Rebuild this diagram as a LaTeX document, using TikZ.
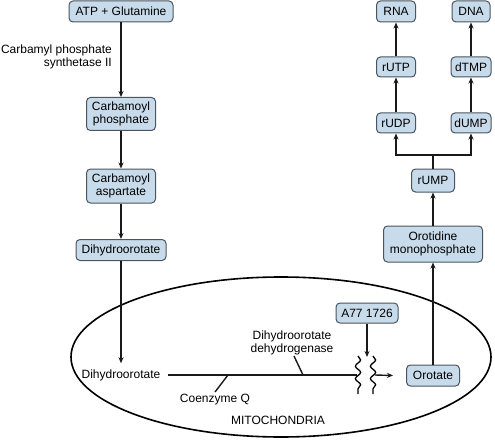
\documentclass[tikz,border=0pt]{standalone}
\usepackage{fontspec}
\setmainfont{Liberation Sans}
\usetikzlibrary{arrows.meta,decorations.pathmorphing}
\definecolor{boxblue}{HTML}{C8DBEA}
\definecolor{boxline}{HTML}{4A5560}
\begin{document}
\begin{tikzpicture}[x=1pt,y=-1pt,
  every node/.style={font=\fontsize{12}{13.5}\selectfont, inner sep=1pt},
  molbox/.style={draw=boxline, fill=boxblue, rounded corners=4pt, line width=1pt,
    align=center, minimum height=21pt, inner sep=2pt},
  lbl/.style={align=center},
  conn/.style={line width=1.4pt, draw=black!90},
  arr/.style={conn, -{Stealth[length=6pt,width=5pt]}},
  squig/.style={line width=1.3pt, decorate,
    decoration={snake, amplitude=2.6pt, segment length=12.5pt}}]
\useasboundingbox (0,0) rectangle (495,441);

% mitochondrion
\draw[line width=1.6pt] (281,357) ellipse [x radius=210, y radius=80];
\node[lbl] (mito) at (278,420) {MITOCHONDRIA};

% left column
\node[molbox, minimum width=104pt] (atp) at (121,11.5) {ATP + Glutamine};
\node[lbl, anchor=east, align=right] (cps) at (113,57) {Carbamyl phosphate\\synthetase II};
\node[molbox, minimum width=69pt, minimum height=33pt] (cp) at (121,114) {Carbamoyl\\phosphate};
\node[molbox, minimum width=69pt, minimum height=34pt] (ca) at (121,186) {Carbamoyl\\aspartate};
\node[molbox, minimum width=90pt] (dho) at (121,250) {Dihydroorotate};
\node[lbl] (dho2) at (121,375) {Dihydroorotate};

\draw[arr] (atp.south) -- (cp.north);
\draw[arr] (cp.south) -- (ca.north);
\draw[arr] (ca.south) -- (dho.north);
\draw[arr] (dho.south) -- ([yshift=5pt]dho2.north);

% reaction in mitochondrion
\coordinate (w1) at (357,375);
\coordinate (w2) at (375,375);
\coordinate (sq1t) at (358,356);
\coordinate (sq1b) at (358,394);
\coordinate (sq2t) at (373,356);
\coordinate (sq2b) at (373,394);
\coordinate (inh) at (367,357);
\node[molbox, minimum width=53pt] (orot) at (433,375.5) {Orotate};
\node[molbox, minimum width=62pt, minimum height=20pt] (a77) at (367,313) {A77 1726};
\node[lbl] (dhodh) at (292,343) {Dihydroorotate\\dehydrogenase};
\node[lbl] (coq) at (215,400) {Coenzyme Q};
\coordinate (t1a) at (303,375);
\coordinate (t1b) at (294,356);
\coordinate (t2a) at (228,375);
\coordinate (t2b) at (215,392);

\draw[conn] ([xshift=6pt]dho2.east) -- (w1);
\draw[squig] (sq1t) -- (sq1b);
\draw[squig] (sq2t) -- (sq2b);
\draw[arr] (w2) -- ([xshift=-13pt]orot.west);
\draw[arr] (a77.south) -- (inh);
\draw[conn] (t1a) -- (t1b);
\draw[conn] (t2a) -- (t2b);

% right column
\node[molbox, minimum width=99pt, minimum height=36pt] (omp) at (433,244) {Orotidine\\monophosphate};
\node[molbox, minimum width=43pt, minimum height=23pt] (rump) at (433,180.5) {rUMP};
\node[molbox, minimum width=39pt, minimum height=20pt] (rudp) at (396,123) {rUDP};
\node[molbox, minimum width=39pt, minimum height=20pt] (rutp) at (396,67) {rUTP};
\node[molbox, minimum width=39pt, minimum height=21pt] (rna) at (396,11.5) {RNA};
\node[molbox, minimum width=40pt, minimum height=20pt] (dump) at (471,123) {dUMP};
\node[molbox, minimum width=40pt, minimum height=20pt] (dtmp) at (471,67) {dTMP};
\node[molbox, minimum width=38pt, minimum height=21pt] (dna) at (471,11.5) {DNA};
\coordinate (br) at (433,155);

\draw[arr] (orot.north) -- (omp.south);
\draw[arr] (omp.north) -- (rump.south);
\draw[conn] (rump.north) -- (br);
\draw[arr] (br) -| (rudp.south);
\draw[arr] (br) -| (dump.south);
\draw[arr] (rudp.north) -- (rutp.south);
\draw[arr] (rutp.north) -- (rna.south);
\draw[arr] (dump.north) -- (dtmp.south);
\draw[arr] (dtmp.north) -- (dna.south);
\end{tikzpicture}
\end{document}
